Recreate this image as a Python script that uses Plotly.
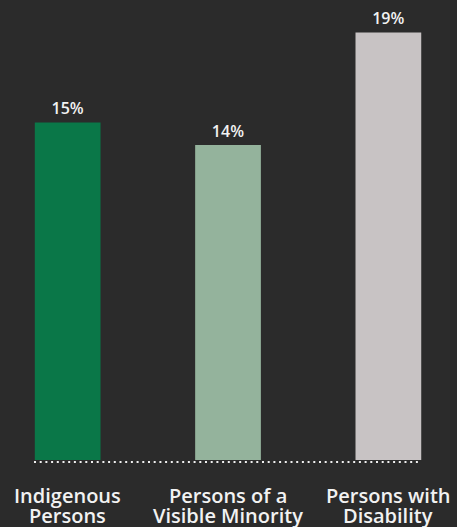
import plotly.graph_objects as go

# Representation shares by group (percent)
groups = ["Indigenous Persons", "Persons of a Visible Minority", "Persons with Disability"]
label_lines = [["Indigenous", "Persons"], ["Persons of a", "Visible Minority"], ["Persons with", "Disability"]]
shares = [15, 14, 19]
bar_colors = ["#0a7748", "#94b39c", "#c8c3c4"]

BG = "#2b2b2b"
FONT = "Open Sans"
BAR_W = 0.41
PLOT_H = 460

fig = go.Figure(
    go.Bar(
        x=groups,
        y=shares,
        width=BAR_W,
        marker=dict(color=bar_colors, line=dict(width=0)),
        texttemplate="%{y}%",
        textposition="outside",
        textfont=dict(family=FONT, size=16, color="#f2f2f2", weight=600),
        cliponaxis=False,
        hoverinfo="skip",
    )
)

# Dotted baseline spanning the bars, just under their bottoms
fig.add_shape(
    type="line", xref="x", yref="paper",
    x0=-BAR_W / 2 - 0.005, x1=len(groups) - 1 + BAR_W / 2, y0=-2 / PLOT_H, y1=-2 / PLOT_H,
    line=dict(color="#f0f0f0", width=2, dash="2px,3.7px"),
)

# Two-line category labels under each bar
for g, lines in zip(groups, label_lines):
    for i, line in enumerate(lines):
        fig.add_annotation(
            x=g, xref="x", y=-(20 + i * 19.5) / PLOT_H, yref="paper",
            text=line, showarrow=False, yanchor="top",
            font=dict(family=FONT, size=20, color="#f2f2f2", weight=600),
        )

fig.update_layout(
    width=457, height=527,
    margin=dict(l=0, r=0, t=0, b=527 - PLOT_H),
    paper_bgcolor=BG, plot_bgcolor=BG,
    showlegend=False,
    xaxis=dict(range=[-0.422, 2.428], showticklabels=False, showgrid=False,
               zeroline=False, showline=False, ticks=""),
    yaxis=dict(range=[0, 20.44], showticklabels=False, showgrid=False,
               zeroline=False, showline=False, ticks=""),
)

fig.write_html("out.html")
